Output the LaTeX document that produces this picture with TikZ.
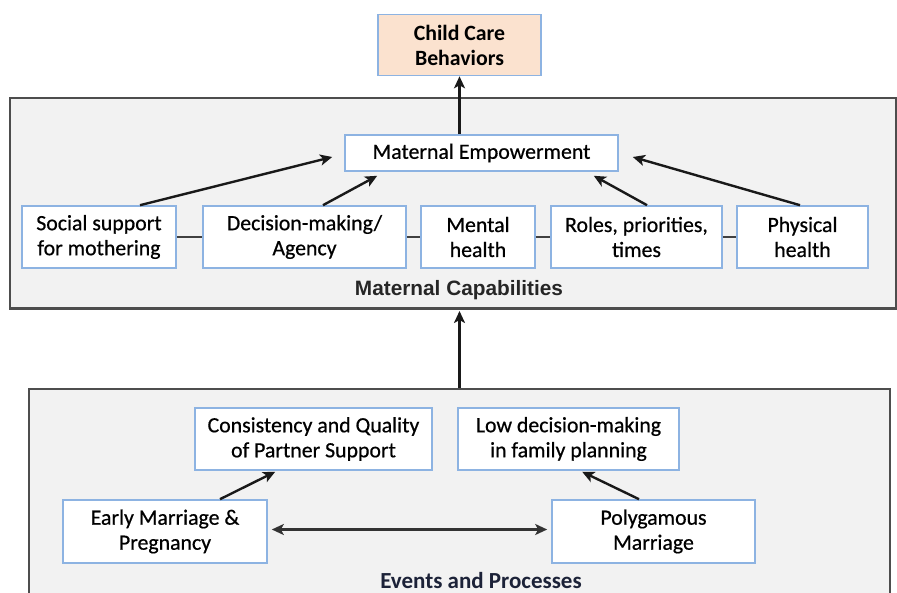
\documentclass[tikz,border=0pt]{standalone}
\usepackage{fontspec}
\setmainfont{Carlito}
\newfontfamily\boxfont[FakeBold=0.6]{Carlito}
\newfontfamily\arialfont{Liberation Sans}
\usetikzlibrary{calc,arrows.meta}
\definecolor{boxblue}{HTML}{8DB3E2}
\definecolor{panelfill}{HTML}{F2F2F2}
\definecolor{panelline}{HTML}{4D4D4D}
\definecolor{peach}{HTML}{FBE2CF}
\definecolor{navytext}{HTML}{1C2238}
\tikzset{
  box/.style={draw=boxblue, line width=1.6pt, fill=white, align=center,
    inner sep=0pt, font=\boxfont\fontsize{21.8}{25}\selectfont, text=black},
  panel/.style={draw=panelline, line width=2pt, fill=panelfill, inner sep=0pt},
  arr/.style={-{Stealth[length=12pt,width=11pt,inset=3pt]}, line width=2.4pt, black!90},
  darr/.style={{Stealth[length=12pt,width=11pt,inset=3pt]}-{Stealth[length=12pt,width=11pt,inset=3pt]}, line width=2.6pt, black!80},
  link/.style={line width=2.2pt, black!75}
}
\begin{document}
\begin{tikzpicture}[x=1pt,y=-1pt]
\useasboundingbox (0,0) rectangle (897,593);
\fill[white] (0,0) rectangle (897,593);

% containers
\node[panel, minimum width=886pt, minimum height=210pt] (cap) at (453,203) {};
\draw[panelline, line width=3pt] (cap.south west) -- (cap.south east);
\begin{scope}
  \clip (0,0) rectangle (897,593);
  \node[panel, minimum width=861pt, minimum height=240pt] (evt) at (459.5,509) {};
\end{scope}

% top outcome
\node[box, fill=peach, minimum width=163pt, minimum height=61pt,
  font=\fontsize{21.8}{25}\selectfont\bfseries] (ccb) at (459.5,45) {Child Care\\Behaviors};

% capabilities
\node[box, minimum width=273pt, minimum height=36pt] (me) at (481.5,153) {Maternal Empowerment};
\node[box, minimum width=154pt, minimum height=62pt] (ss) at (99,237) {Social support\\for mothering};
\node[box, minimum width=203pt, minimum height=62pt] (dm) at (304.5,237) {Decision-making/\\Agency};
\node[box, minimum width=114pt, minimum height=62pt] (mh) at (478,237) {Mental\\health};
\node[box, minimum width=171pt, minimum height=62pt] (rp) at (636.5,237) {Roles, priorities,\\times};
\node[box, minimum width=131pt, minimum height=62pt] (ph) at (802.5,237) {Physical\\health};
\node[font=\arialfont\fontsize{20.8}{23}\selectfont\bfseries, text=black!85] (caplbl) at (459,290) {Maternal Capabilities};

% events
\node[box, minimum width=237pt, minimum height=62pt] (cq) at (313.5,439) {Consistency and Quality\\of Partner Support};
\node[box, minimum width=221pt, minimum height=62pt] (ld) at (568.5,439) {Low decision-making\\in family planning};
\node[box, minimum width=204pt, minimum height=63pt] (em) at (165,531.5) {Early Marriage \&\\Pregnancy};
\node[box, minimum width=203pt, minimum height=63pt] (pm) at (653.5,531.5) {Polygamous\\Marriage};
\node[font=\fontsize{23}{25}\selectfont\bfseries, text=navytext] (evtlbl) at (481,581) {Events and Processes};

% links between capabilities
\draw[link] (ss.east) -- (dm.west);
\draw[link] (dm.east) -- (mh.west);
\draw[link] (mh.east) -- (rp.west);
\draw[link] (rp.east) -- (ph.west);

% arrows into empowerment
\draw[arr] ($(ss.north)+(41,0)$) -- ($(me.west)+(-12,4)$);
\draw[arr] ($(dm.north)+(18.5,0)$) -- ($(me.south west)+(33,4)$);
\draw[arr] ($(rp.north)+(10.5,0)$) -- ($(me.south east)+(-25,4)$);
\draw[arr] ($(ph.north)+(-2.5,0)$) -- ($(me.east)+(14,4)$);

% upward flow
\draw[arr] (me.north -| ccb) -- (ccb.south);
\draw[arr] (evt.north -| ccb) -- ($(cap.south -| ccb)+(0,2)$);

% events arrows
\draw[arr] ($(em.north)+(55,0)$) -- ($(cq.south west)+(81,1)$);
\draw[arr] ($(pm.north)+(-14.5,0)$) -- ($(ld.south west)+(125,1)$);
\draw[darr, shorten <=4pt, shorten >=4pt] ($(em.east)+(0,-2)$) -- ($(pm.west)+(0,-2)$);
\end{tikzpicture}
\end{document}
